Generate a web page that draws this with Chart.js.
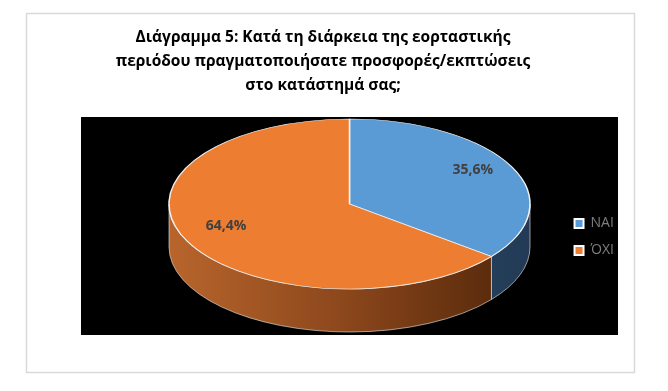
<!DOCTYPE html>
<html>
<head>
<meta charset="utf-8">
<script src="https://cdn.jsdelivr.net/npm/chart.js"></script>
<style>
  html, body { margin: 0; padding: 0; background: #fff; }
</style>
</head>
<body>
<canvas id="myChart" width="668" height="391"></canvas>
<script>
const titleLines = [
  'Διάγραμμα 5: Κατά τη διάρκεια της εορταστικής',
  'περιόδου πραγματοποιήσατε προσφορές/εκπτώσεις',
  'στο κατάστημά σας;'
];
const categories = ['ΝΑΙ', 'ΌΧΙ'];
const values = [35.6, 64.4];

const sliceColors = ['#5b9bd5', '#ed7d31'];

// ellipse of the tilted pie on screen
const geom = { cx: 349.5, cy: 204, rx: 180.5, ry: 85, depth: 43 };

const frame = {
  id: 'frame',
  beforeDraw(chart) {
    const c = chart.ctx;
    c.save();
    c.fillStyle = '#fff';
    c.fillRect(0, 0, chart.width, chart.height);
    c.strokeStyle = '#d9d9d9';
    c.lineWidth = 1.5;
    c.strokeRect(26.5, 13.5, 608, 359);
    c.fillStyle = '#000';
    c.fillRect(81, 117, 537, 218);
    c.restore();
  }
};

const pie3d = {
  id: 'pie3d',
  beforeDatasetsDraw(chart) {
    const c = chart.ctx;
    const arcs = chart.getDatasetMeta(0).data;
    const { cx, cy, rx, ry, depth } = geom;
    c.save();
    arcs.forEach((arc, i) => {
      const a1 = Math.max(arc.startAngle, 0);
      const a2 = Math.min(arc.endAngle, Math.PI);
      if (a2 <= a1) return;
      const g = c.createLinearGradient(cx - rx, 0, cx + rx, 0);
      if (i === 0) {
        g.addColorStop(0, '#3a5f86');
        g.addColorStop(1, '#223a55');
      } else {
        g.addColorStop(0, '#b8652c');
        g.addColorStop(0.5, '#8a461b');
        g.addColorStop(1, '#4f2509');
      }
      c.fillStyle = g;
      c.strokeStyle = 'rgba(255,255,255,0.55)';
      c.lineWidth = 1;
      c.beginPath();
      c.ellipse(cx, cy, rx, ry, 0, a1, a2);
      c.lineTo(cx + rx * Math.cos(a2), cy + ry * Math.sin(a2) + depth);
      c.ellipse(cx, cy + depth, rx, ry, 0, a2, a1, true);
      c.closePath();
      c.fill();
      c.stroke();
    });
    c.restore();

    // squash the flat pie into the top face
    const a0 = arcs[0];
    c.save();
    c.translate(cx, cy);
    c.scale(rx / a0.outerRadius, ry / a0.outerRadius);
    c.translate(-a0.x, -a0.y);
  },
  afterDatasetsDraw(chart) {
    const c = chart.ctx;
    c.restore();
    const arcs = chart.getDatasetMeta(0).data;
    const { cx, cy, rx, ry } = geom;
    const total = values.reduce((a, b) => a + b, 0);
    c.save();
    c.font = 'bold 14px "Open Sans"';
    c.fillStyle = '#404040';
    c.textAlign = 'center';
    c.textBaseline = 'middle';
    arcs.forEach((arc, i) => {
      const mid = (arc.startAngle + arc.endAngle) / 2;
      const x = cx + Math.cos(mid) * rx * 0.76;
      const y = cy - 6 + Math.sin(mid) * ry * 0.76;
      const pct = (values[i] / total * 100).toFixed(1).replace('.', ',') + '%';
      c.fillText(pct, x, y);
    });
    c.restore();
  }
};

new Chart(document.getElementById('myChart'), {
  type: 'pie',
  data: {
    labels: categories,
    datasets: [{
      data: values,
      backgroundColor: sliceColors,
      borderColor: '#f2f2f2',
      borderWidth: 1,
      clip: false
    }]
  },
  options: {
    responsive: false,
    animation: false,
    layout: { padding: { top: 0, right: 44, bottom: 35, left: 22 } },
    plugins: {
      title: {
        display: true,
        text: titleLines,
        color: '#000',
        font: { family: 'Open Sans', size: 15.5, weight: 'bold', lineHeight: '24px' },
        padding: { top: 26, bottom: 20 }
      },
      legend: {
        position: 'right',
        fullSize: false,
        labels: {
          color: '#7f7f7f',
          font: { family: 'Open Sans', size: 14 },
          boxWidth: 9,
          boxHeight: 9,
          padding: 13,
          generateLabels(chart) {
            const items = Chart.overrides.pie.plugins.legend.labels.generateLabels(chart);
            items.forEach(it => { it.lineWidth = 2; it.strokeStyle = '#ffffff'; });
            return items;
          }
        }
      },
      tooltip: { enabled: false }
    }
  },
  plugins: [frame, pie3d]
});
</script>
</body>
</html>
